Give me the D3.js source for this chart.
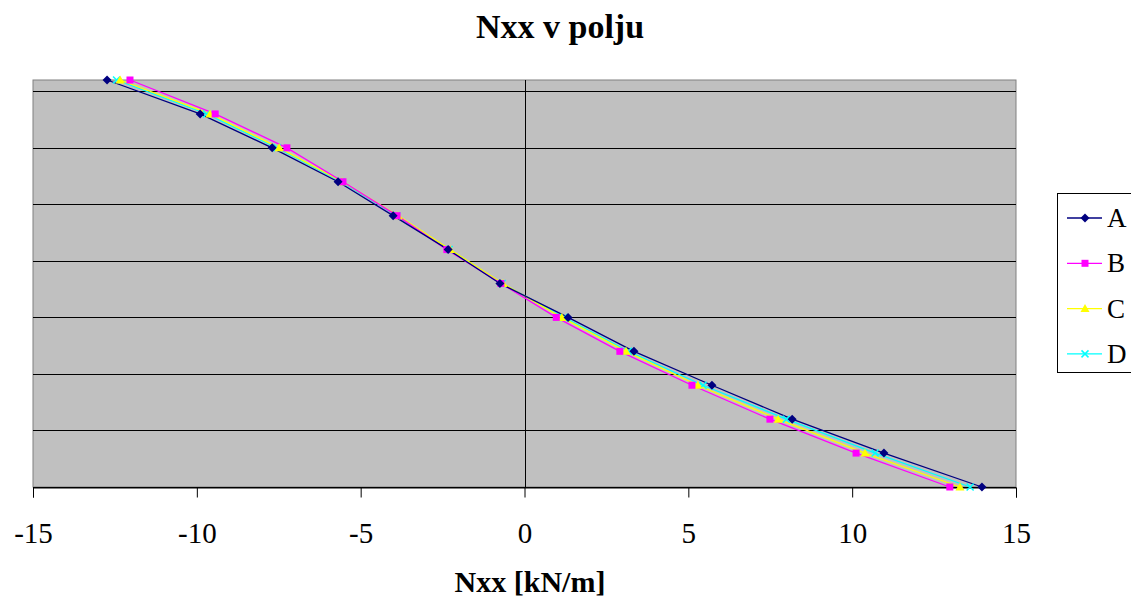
<!DOCTYPE html>
<html><head><meta charset="utf-8">
<script src="https://cdn.jsdelivr.net/npm/d3@7"></script>
<style>body{margin:0;background:#fff}svg{display:block}text{font-family:"Liberation Serif","Times New Roman",serif}</style>
</head><body>
<svg id="c" width="1131" height="604"></svg>
<script>
const depths = [0.18,0.15,0.12,0.09,0.06,0.03,0,-0.03,-0.06,-0.09,-0.12,-0.15,-0.18];
const seriesA = [-12.74,-9.90,-7.70,-5.69,-4.01,-2.33,-0.75,1.33,3.34,5.72,8.17,10.97,13.96];
const seriesB = [-12.04,-9.44,-7.25,-5.54,-3.89,-2.37,-0.72,0.97,2.91,5.11,7.49,10.12,12.98];
const seriesC = [-12.34,-9.60,-7.49,-5.56,-3.86,-2.27,-0.66,1.14,3.10,5.29,7.74,10.39,13.29];
const seriesD = [-12.45,-9.70,-7.55,-5.60,-3.90,-2.30,-0.68,1.20,3.17,5.45,7.99,10.70,13.60];
const seriesNames = ["A","B","C","D"];
const seriesColors = ["#000080","#FF00FF","#FFFF00","#00FFFF"];
const xTicks = [-15,-10,-5,0,5,10,15];
const xTickLabels = ["-15","-10","-5","0","5","10","15"];
const yGrid = [-0.18,-0.13,-0.08,-0.03,0.02,0.07,0.12,0.17];
const title = "Nxx v polju";
const xTitle = "Nxx [kN/m]";

const svg = d3.select("#c");
const L=33, R=1016, T=80, B=487;
const x = d3.scaleLinear().domain([-15,15]).range([L,R]);
const y = d3.scaleLinear().domain([-0.18,0.18]).range([B,T]);

svg.append("rect").attr("x",L).attr("y",T).attr("width",R-L).attr("height",B-T)
  .attr("fill","#C0C0C0").attr("stroke","#808080").attr("stroke-width",1);

svg.append("g").selectAll("line").data(yGrid).join("line")
  .attr("x1",L).attr("x2",R).attr("y1",d=>Math.round(y(d))+0.5).attr("y2",d=>Math.round(y(d))+0.5)
  .attr("stroke","#000").attr("stroke-width",1);

// y axis at x=0
svg.append("line").attr("x1",Math.round(x(0))+0.5).attr("x2",Math.round(x(0))+0.5).attr("y1",T).attr("y2",B)
  .attr("stroke","#000");

// x axis
const xa = svg.append("g").attr("transform",`translate(0,${B+0.5})`)
  .call(d3.axisBottom(x).tickValues(xTicks).tickSize(10).tickPadding(25)
    .tickFormat((d,i)=>xTickLabels[i]));
xa.select(".domain").attr("stroke","#000");
xa.selectAll(".tick line").attr("stroke","#000");
xa.selectAll("text").attr("font-size",29).attr("fill","#000").attr("font-family","Liberation Serif, serif");

svg.append("text").attr("x",560).attr("y",38).attr("text-anchor","middle")
  .attr("font-size",34).attr("font-weight","bold").text(title);
svg.append("text").attr("x",530).attr("y",592).attr("text-anchor","middle")
  .attr("font-size",30).attr("font-weight","bold").text(xTitle);

const allSeries = [seriesA,seriesB,seriesC,seriesD];
const line = d3.line().x(d=>x(d[0])).y(d=>y(d[1]));

function marker(g, i, cx, cy){
  const c = seriesColors[i];
  if(i===0){
    g.append("path").attr("d",`M${cx},${cy-4.5}L${cx+4.5},${cy}L${cx},${cy+4.5}L${cx-4.5},${cy}Z`).attr("fill",c);
  } else if(i===1){
    g.append("rect").attr("x",cx-3.5).attr("y",cy-3.5).attr("width",7).attr("height",7).attr("fill",c);
  } else if(i===2){
    g.append("path").attr("d",`M${cx},${cy-4.5}L${cx+4.5},${cy+3.5}L${cx-4.5},${cy+3.5}Z`).attr("fill",c);
  } else {
    g.append("path").attr("d",`M${cx-3.5},${cy-3.5}L${cx+3.5},${cy+3.5}M${cx+3.5},${cy-3.5}L${cx-3.5},${cy+3.5}`)
      .attr("stroke",c).attr("stroke-width",1.5);
  }
}

[3,2,1,0].forEach(i=>{
  const pts = depths.map((d,k)=>[allSeries[i][k], d]);
  svg.append("path").datum(pts).attr("d",line).attr("fill","none")
    .attr("stroke",seriesColors[i]).attr("stroke-width",1.3);
});
[3,2,1,0].forEach(i=>{
  const g = svg.append("g");
  depths.forEach((d,k)=>marker(g,i,x(allSeries[i][k]),y(d)));
});

// legend
const lg = svg.append("g");
lg.append("rect").attr("x",1057.5).attr("y",193.5).attr("width",90).attr("height",179)
  .attr("fill","#fff").attr("stroke","#000");
seriesNames.forEach((n,i)=>{
  const cy = 218 + i*45.3;
  lg.append("line").attr("x1",1067).attr("x2",1102).attr("y1",cy).attr("y2",cy)
    .attr("stroke",seriesColors[i]).attr("stroke-width",1.3);
  marker(lg,i,1085,cy);
  lg.append("text").attr("x",1107).attr("y",cy+9).attr("font-size",27).text(n);
});
</script>
</body></html>
